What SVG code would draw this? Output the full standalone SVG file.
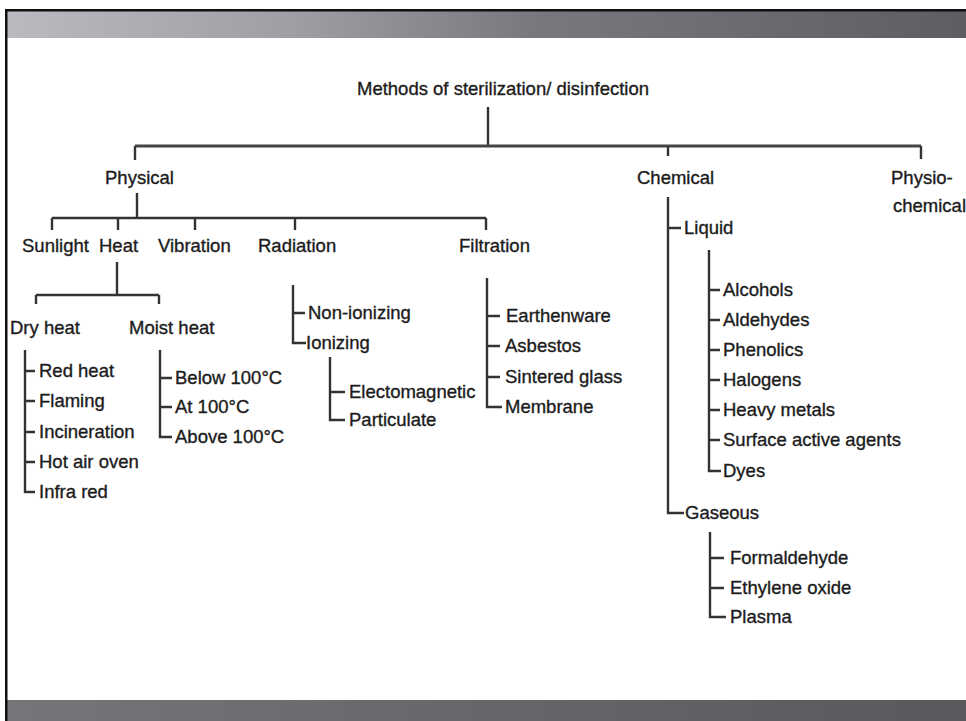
<svg xmlns="http://www.w3.org/2000/svg" width="966" height="721" viewBox="0 0 966 721">
<defs>
<linearGradient id="topg" x1="0" y1="0" x2="1" y2="0">
<stop offset="0" stop-color="#bcbac0"/>
<stop offset="0.3" stop-color="#a09ea4"/>
<stop offset="0.55" stop-color="#7a787e"/>
<stop offset="1" stop-color="#5f5d62"/>
</linearGradient>
<linearGradient id="botg" x1="0" y1="0" x2="1" y2="0">
<stop offset="0" stop-color="#77757a"/>
<stop offset="0.45" stop-color="#69676c"/>
<stop offset="1" stop-color="#5a585d"/>
</linearGradient>
<style>
text{font-family:"Liberation Sans",Arial,sans-serif;font-size:18.5px;fill:#1c1c1c;stroke:#1c1c1c;stroke-width:0.35}
.c{fill:none;stroke:#333;stroke-width:2.4}
.m{fill:none;stroke:#444;stroke-width:3}
</style>
</defs>
<rect x="0" y="0" width="966" height="721" fill="#fff"/>
<rect x="5" y="11" width="961" height="27" fill="url(#topg)"/>
<rect x="5" y="700" width="961" height="21" fill="url(#botg)"/>
<rect x="5" y="9" width="961" height="2.5" fill="#111"/>
<rect x="5" y="9" width="2.5" height="712" fill="#111"/>

<g id="connectors">
<path class="c" d="M488,107V146"/>
<path class="m" d="M135,146H921"/>
<path class="c" d="M135,146V160M668,146V156M921,146V159"/>
<path class="c" d="M137,193V218M52,218H486M52,218V230M118,218V230M195,218V230M295,218V230M486,218V230"/>
<path class="c" d="M117,262V295M36,295H159M36,295V304M159,295V304"/>
<path class="c" d="M25,350V492H35M25,371H35M25,401H35M25,432H35M25,462H35"/>
<path class="c" d="M160,350V437H172M160,378H172M160,407H172"/>
<path class="c" d="M293,285V343H306M293,313H305"/>
<path class="c" d="M330,357V420H345M330,392H345"/>
<path class="c" d="M487,278V407H502M487,316H500M487,346H500M487,377H500"/>
<path class="c" d="M668,197V513H684M668,228H681"/>
<path class="c" d="M709,250V471H721M709,290H720M709,320H720M709,350H720M709,380H720M709,410H720M709,440H720"/>
<path class="c" d="M710,532V617H726M710,558H724M710,588H724"/>
</g>

<g id="root"><text x="503" y="95" text-anchor="middle">Methods of sterilization/ disinfection</text></g>
<g id="physical"><text x="105" y="184">Physical</text></g>
<g id="chemical"><text x="637" y="184">Chemical</text></g>
<g id="physiochemical"><text x="891" y="184">Physio-</text><text x="893" y="212">chemical</text></g>

<g id="sunlight"><text x="22" y="252">Sunlight</text></g>
<g id="heat"><text x="99" y="252">Heat</text></g>
<g id="vibration"><text x="158" y="252">Vibration</text></g>
<g id="radiation"><text x="258" y="252">Radiation</text></g>
<g id="filtration"><text x="459" y="252">Filtration</text></g>

<g id="dryheat"><text x="10" y="334">Dry heat</text></g>
<g id="moistheat"><text x="129" y="334">Moist heat</text></g>

<g id="dry-list">
<text x="39" y="377">Red heat</text>
<text x="39" y="407">Flaming</text>
<text x="39" y="438">Incineration</text>
<text x="39" y="468">Hot air oven</text>
<text x="39" y="498">Infra red</text>
</g>
<g id="moist-list">
<text x="175" y="384">Below 100°C</text>
<text x="175" y="413">At 100°C</text>
<text x="175" y="443">Above 100°C</text>
</g>
<g id="radiation-list">
<text x="308" y="319">Non-ionizing</text>
<text x="306" y="349">Ionizing</text>
</g>
<g id="ionizing-list">
<text x="349" y="398">Electomagnetic</text>
<text x="349" y="426">Particulate</text>
</g>
<g id="filtration-list">
<text x="506" y="322">Earthenware</text>
<text x="505" y="352">Asbestos</text>
<text x="505" y="383">Sintered glass</text>
<text x="505" y="413">Membrane</text>
</g>
<g id="liquid"><text x="684" y="234">Liquid</text></g>
<g id="liquid-list">
<text x="723" y="296">Alcohols</text>
<text x="723" y="326">Aldehydes</text>
<text x="723" y="356">Phenolics</text>
<text x="723" y="386">Halogens</text>
<text x="723" y="416">Heavy metals</text>
<text x="723" y="446">Surface active agents</text>
<text x="723" y="477">Dyes</text>
</g>
<g id="gaseous"><text x="685" y="519">Gaseous</text></g>
<g id="gaseous-list">
<text x="730" y="564">Formaldehyde</text>
<text x="730" y="594">Ethylene oxide</text>
<text x="730" y="623">Plasma</text>
</g>
</svg>
